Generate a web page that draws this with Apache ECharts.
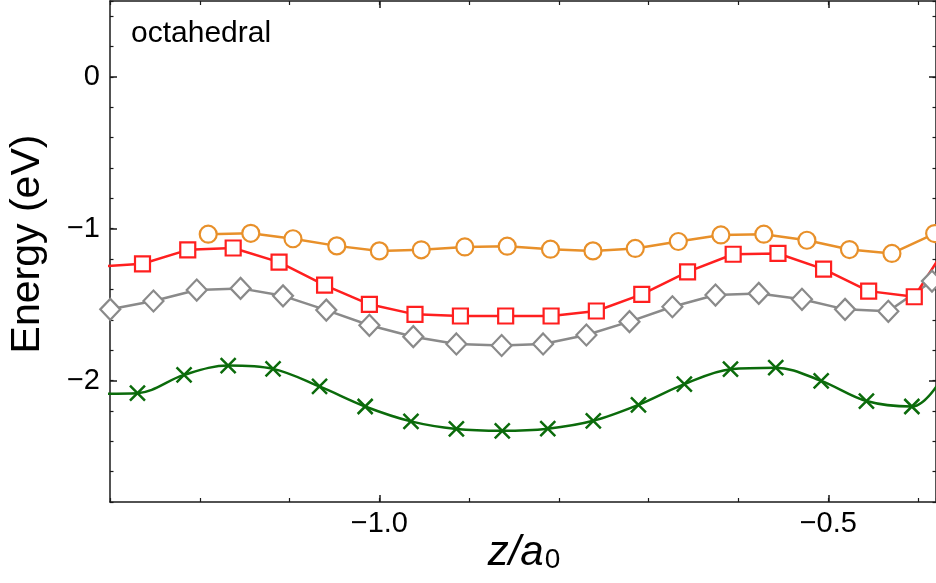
<!DOCTYPE html>
<html>
<head>
<meta charset="utf-8">
<script src="https://cdn.jsdelivr.net/npm/echarts@6/dist/echarts.min.js"></script>
<style>
  html, body { margin: 0; padding: 0; background: #fff; }
  #chart { width: 936px; height: 583px; }
</style>
</head>
<body>
<div id="chart"></div>
<script>
// Energy curves along z (in units of a0), octahedral site
const xRange = [-1.3, -0.38];
const yRange = [-2.8, 0.5];
const xMajorTicks = [-1.0, -0.5];
const yMajorTicks = [-2, -1, 0];

const orangeZ = [-1.1906, -1.1432, -1.0962, -1.0474, -1.0000, -0.9533, -0.9048, -0.8576, -0.8094, -0.7621, -0.7150, -0.6670, -0.6196, -0.5718, -0.5238, -0.4764, -0.4291, -0.3815];
const orangeE = [-1.036, -1.030, -1.066, -1.113, -1.146, -1.139, -1.120, -1.115, -1.135, -1.146, -1.130, -1.084, -1.041, -1.036, -1.076, -1.137, -1.163, -1.032];

const redZ = [-1.3144, -1.2638, -1.2134, -1.1628, -1.1117, -1.0610, -1.0111, -0.9603, -0.9097, -0.8593, -0.8087, -0.7583, -0.7077, -0.6567, -0.6059, -0.5560, -0.5052, -0.4550, -0.4042, -0.3536];
const redE = [-1.251, -1.231, -1.139, -1.127, -1.220, -1.371, -1.498, -1.564, -1.575, -1.575, -1.575, -1.542, -1.432, -1.284, -1.168, -1.163, -1.266, -1.411, -1.448, -0.982];

const grayZ = [-1.2997, -1.2516, -1.2034, -1.1546, -1.1073, -1.0591, -1.0111, -0.9622, -0.9142, -0.8638, -0.8176, -0.7694, -0.7214, -0.6736, -0.6256, -0.5774, -0.5293, -0.4813, -0.4331, -0.3845];
const grayE = [-1.531, -1.476, -1.404, -1.393, -1.442, -1.536, -1.636, -1.711, -1.759, -1.769, -1.759, -1.700, -1.612, -1.514, -1.437, -1.426, -1.465, -1.531, -1.544, -1.345];

const greenZ = [-1.3200, -1.2694, -1.2175, -1.1684, -1.1184, -1.0666, -1.0158, -0.9648, -0.9142, -0.8631, -0.8124, -0.7617, -0.7114, -0.6603, -0.6089, -0.5585, -0.5079, -0.4575, -0.4069, -0.3566];
const greenE = [-2.087, -2.083, -1.963, -1.901, -1.923, -2.039, -2.171, -2.269, -2.319, -2.331, -2.317, -2.265, -2.160, -2.024, -1.925, -1.915, -2.002, -2.135, -2.171, -1.805];

const FONT = "'Liberation Sans', Arial, Helvetica, sans-serif";
const AXIS_COLOR = '#1a1a1a';
const pairs = (xs, ys) => xs.map((x, i) => [x, ys[i]]);
const minus = v => String(v).replace('-', '\u2212');

function xAxisDef(pos, major, showLine) {
  return {
    type: 'value', position: pos, min: xRange[0], max: xRange[1],
    interval: major ? undefined : 0.1,
    axisLine: { show: showLine, onZero: false, lineStyle: { color: AXIS_COLOR, width: 1.5 } },
    axisTick: major
      ? { show: true, inside: true, length: 7, customValues: xMajorTicks, lineStyle: { color: AXIS_COLOR, width: 1.5 } }
      : { show: true, inside: true, length: 4, lineStyle: { color: AXIS_COLOR, width: 1.2 } },
    axisLabel: (major && pos === 'bottom')
      ? { show: true, customValues: xMajorTicks, margin: 7, color: '#000', fontSize: 29, fontFamily: FONT,
          formatter: v => minus(v.toFixed(1)) }
      : { show: false },
    splitLine: { show: false }
  };
}
function yAxisDef(pos, major, showLine) {
  return {
    type: 'value', position: pos, min: yRange[0], max: yRange[1],
    interval: major ? undefined : 0.2,
    axisLine: { show: showLine, onZero: false, lineStyle: { color: AXIS_COLOR, width: 1.5 } },
    axisTick: major
      ? { show: true, inside: true, length: 7, customValues: yMajorTicks, lineStyle: { color: AXIS_COLOR, width: 1.5 } }
      : { show: true, inside: true, length: 3.5, lineStyle: { color: AXIS_COLOR, width: 1.2 } },
    axisLabel: (major && pos === 'left')
      ? { show: true, customValues: yMajorTicks, margin: 10, color: '#000', fontSize: 29, fontFamily: FONT,
          formatter: v => minus(v) }
      : { show: false },
    splitLine: { show: false }
  };
}

function lineSeries(name, xs, ys, color, symbol, size, extra) {
  return Object.assign({
    name, type: 'line', xAxisIndex: 0, yAxisIndex: 0,
    data: pairs(xs, ys),
    symbol, symbolSize: size, showAllSymbol: true, clip: true,
    lineStyle: { color, width: 2.5 },
    itemStyle: { color: '#fff', borderColor: color, borderWidth: 2.2 },
    emphasis: { disabled: true }
  }, extra || {});
}

const chart = echarts.init(document.getElementById('chart'), null, { renderer: 'canvas' });
chart.setOption({
  animation: false,
  backgroundColor: '#fff',
  grid: { left: 110, top: 1, right: -3, bottom: 81, containLabel: false },
  xAxis: [
    xAxisDef('bottom', false, true),
    xAxisDef('bottom', true, false),
    xAxisDef('top', false, true),
    xAxisDef('top', true, false)
  ],
  yAxis: [
    yAxisDef('left', false, true),
    yAxisDef('left', true, false),
    yAxisDef('right', false, true),
    yAxisDef('right', true, false)
  ],
  series: [
    lineSeries('green', greenZ, greenE, '#0b6b0b', 'path://M0,0L20,20M20,0L0,20', 15,
      { smooth: 0.35, itemStyle: { color: '#0b6b0b', borderColor: '#0b6b0b', borderWidth: 2.5 } }),
    lineSeries('gray', grayZ, grayE, '#8a8a8a', 'diamond', [20, 21]),
    lineSeries('red', redZ, redE, '#ff1f1f', 'rect', 15),
    lineSeries('orange', orangeZ, orangeE, '#e8902a', 'circle', 17)
  ],
  graphic: [
    { type: 'text', x: 131, y: 34, z: 10,
      style: { text: 'octahedral', fill: '#000', font: '30px ' + FONT, align: 'left', verticalAlign: 'middle' } },
    { type: 'text', x: 28, y: 244, rotation: Math.PI / 2, z: 10,
      style: { text: 'Energy (eV)', fill: '#000', font: '41px ' + FONT, align: 'center', verticalAlign: 'middle' } },
    { type: 'text', x: 524, y: 553, z: 10,
      style: {
        text: '{i|z}{n|/}{i|a}{s|0}', align: 'center', verticalAlign: 'middle',
        rich: {
          i: { fontStyle: 'italic', fontSize: 42, fontFamily: FONT, fill: '#000', lineHeight: 42 },
          n: { fontStyle: 'italic', fontSize: 42, fontFamily: FONT, fill: '#000', lineHeight: 42 },
          s: { fontSize: 28, fontFamily: FONT, fill: '#000', lineHeight: 28, verticalAlign: 'bottom', padding: [0, 0, 0, 1] }
        }
      } }
  ]
});
</script>
</body>
</html>
